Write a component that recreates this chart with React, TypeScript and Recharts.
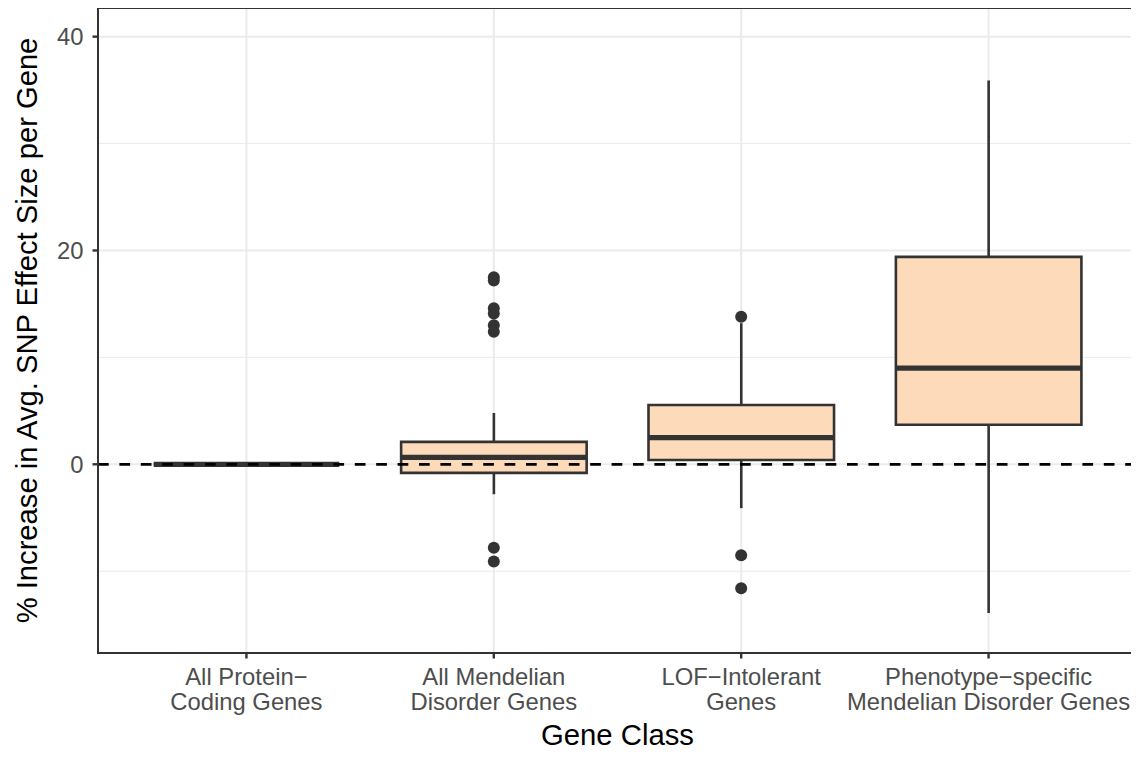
import {
  Bar,
  CartesianGrid,
  ComposedChart,
  Label,
  ReferenceLine,
  Scatter,
  XAxis,
  YAxis,
} from "recharts";

const FONT = "'Liberation Sans', Arial, Helvetica, sans-serif";
const INK = "#333333";
const TICK_TEXT = "#4D4D4D";
const GRID = "#EBEBEB";
const FILL = "#FDDAB9";

const WIDTH = 1131;
const HEIGHT = 749;
const Y_AXIS_W = 90;
const X_AXIS_H = 104;
const PLOT_W = WIDTH - Y_AXIS_W - 2;
const PLOT_H = HEIGHT - X_AXIS_H;
// ggplot-style discrete expansion: 0.6 of a category on either side
const UNIT = PLOT_W / 4.2;
const PAD = UNIT * 0.1;
const BOX_W = UNIT * 0.75;

const categories = [
  "All Protein−\nCoding Genes",
  "All Mendelian\nDisorder Genes",
  "LOF−Intolerant\nGenes",
  "Phenotype−specific\nMendelian Disorder Genes",
];
const lowerWhisker = [0, -2.8, -4.1, -13.9];
const q1 = [0, -0.8, 0.4, 3.7];
const median = [0, 0.65, 2.5, 9.0];
const q3 = [0, 2.1, 5.55, 19.4];
const upperWhisker = [0, 4.8, 13.2, 35.9];

const outlierIndex = [2, 2, 2, 2, 2, 2, 2, 2, 3, 3, 3];
const outlierValue = [17.5, 17.2, 14.6, 14.1, 13.0, 12.4, -7.8, -9.1, 13.8, -8.5, -11.6];

const yTicks = [0, 20, 40];
const yMinor = [-10, 10, 30];
const Y_DOMAIN: [number, number] = [-17.65, 42.68];

const boxData = categories.map((name, i) => ({
  name,
  lo: lowerWhisker[i],
  q1: q1[i],
  med: median[i],
  q3: q3[i],
  hi: upperWhisker[i],
}));

const outliers = outlierIndex.map((idx, i) => ({ idx, v: outlierValue[i] }));

function BoxShape(props: any) {
  const { x, y, width, height } = props;
  return (
    <path
      d={`M${x},${y}h${width}v${height}h${-width}Z`}
      fill={FILL}
      stroke={INK}
      strokeWidth={2.6}
    />
  );
}

function WhiskerShape(props: any) {
  const { x, y, width, height } = props;
  const cx = x + width / 2;
  return <line x1={cx} x2={cx} y1={y} y2={y + height} stroke={INK} strokeWidth={2.6} />;
}

function MedianShape(props: any) {
  const { x, y, width } = props;
  return <line x1={x} x2={x + width} y1={y} y2={y} stroke={INK} strokeWidth={5.2} />;
}

function XTick({ x, y, payload }: any) {
  const lines = String(payload.value).split("\n");
  return (
    <text x={x} y={y} textAnchor="middle" fill={TICK_TEXT} fontSize={23.8} fontFamily={FONT}>
      {lines.map((line, i) => (
        <tspan key={i} x={x} dy={25}>
          {line}
        </tspan>
      ))}
    </text>
  );
}

export default function App() {
  return (
    <div style={{ position: "relative", width: WIDTH, height: HEIGHT, fontFamily: FONT }}>
      <ComposedChart
        width={WIDTH}
        height={HEIGHT}
        data={boxData}
        margin={{ top: 0, right: 2, bottom: 0, left: 0 }}
      >
        <CartesianGrid stroke={GRID} strokeWidth={1} vertical={false} horizontalValues={yMinor} />
        <CartesianGrid stroke={GRID} strokeWidth={2} horizontalValues={yTicks} />
        <XAxis
          dataKey="name"
          type="category"
          padding={{ left: PAD, right: PAD }}
          height={X_AXIS_H}
          interval={0}
          axisLine={false}
          tickSize={5.5}
          tickMargin={1.5}
          tickLine={{ stroke: INK, strokeWidth: 2.4 }}
          tick={<XTick />}
        >
          <Label
            content={({ viewBox }: any) => (
              <text
                x={viewBox.x + viewBox.width / 2}
                y={viewBox.y + 92}
                textAnchor="middle"
                fontSize={29.3}
                fontFamily={FONT}
                fill="#000"
              >
                Gene Class
              </text>
            )}
          />
        </XAxis>
        <XAxis xAxisId="w" dataKey="name" type="category" padding={{ left: PAD, right: PAD }} hide />
        <XAxis xAxisId="m" dataKey="name" type="category" padding={{ left: PAD, right: PAD }} hide />
        <XAxis xAxisId="n" type="number" dataKey="idx" domain={[0.4, 4.6]} allowDataOverflow hide />
        <YAxis
          type="number"
          domain={Y_DOMAIN}
          allowDataOverflow
          ticks={yTicks}
          width={Y_AXIS_W}
          axisLine={false}
          tickSize={5.5}
          tickMargin={9}
          tickLine={{ stroke: INK, strokeWidth: 2.4 }}
          tick={{ fill: TICK_TEXT, fontSize: 23.8, fontFamily: FONT }}
        >
          <Label
            content={({ viewBox }: any) => {
              const cx = viewBox.x + 29;
              const cy = viewBox.y + viewBox.height / 2;
              return (
                <text
                  x={cx}
                  y={cy}
                  transform={`rotate(-90, ${cx}, ${cy})`}
                  textAnchor="middle"
                  fontSize={29.2}
                  fontFamily={FONT}
                  fill="#000"
                >
                  % Increase in Avg. SNP Effect Size per Gene
                </text>
              );
            }}
          />
        </YAxis>
        <Bar
          xAxisId="w"
          dataKey={(d: any) => [d.lo, d.hi]}
          barSize={BOX_W}
          shape={<WhiskerShape />}
          isAnimationActive={false}
        />
        <Bar
          dataKey={(d: any) => [d.q1, d.q3]}
          barSize={BOX_W}
          shape={<BoxShape />}
          isAnimationActive={false}
        />
        <Bar
          xAxisId="m"
          dataKey={(d: any) => [d.med, d.med]}
          barSize={BOX_W}
          shape={<MedianShape />}
          isAnimationActive={false}
        />
        <Scatter
          xAxisId="n"
          data={outliers}
          dataKey="v"
          shape={(p: any) => <circle cx={p.cx} cy={p.cy} r={6} fill={INK} />}
          isAnimationActive={false}
        />
        <ReferenceLine y={0} stroke="#000" strokeWidth={2.7} strokeDasharray="10.7 10.7" />
      </ComposedChart>
      <div
        style={{
          position: "absolute",
          left: Y_AXIS_W - 1.2,
          top: -1.2,
          width: PLOT_W + 2.4,
          height: PLOT_H + 2.4,
          border: `2.4px solid ${INK}`,
          boxSizing: "border-box",
          pointerEvents: "none",
        }}
      />
    </div>
  );
}
